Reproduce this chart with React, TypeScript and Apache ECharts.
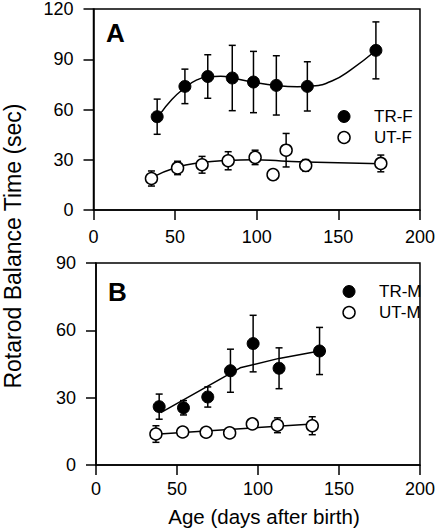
import React, { useEffect, useRef } from "react";
import * as echarts from "echarts";

// ---- Panel A (females) ----
const trfAge = [39, 56, 70, 85, 98, 112, 131, 173];
const trfMean = [55.7, 73.8, 79.7, 78.8, 76.4, 74.4, 73.8, 95.3];
const trfErr = [10.5, 10.3, 13, 19.5, 18.3, 17.7, 14.7, 17];

const utfAge = [35.5, 51.5, 66.5, 82.5, 99, 110, 118, 130, 176];
const utfMean = [18.8, 25.1, 27, 29.4, 31.4, 21.1, 35.7, 26.6, 27.8];
const utfErr = [4.5, 4, 5, 5.4, 4.3, 3, 10, 3.5, 5];

const trfFitX = [41, 48, 56, 63, 70, 78, 86, 98, 112, 125, 134, 146, 158, 172];
const trfFitY = [57.5, 66, 73, 77.5, 79.5, 79.8, 78.6, 76.3, 74.3, 73.6, 74, 77, 84, 94.5];
const utfFitX = [35, 51, 66, 82, 98, 115, 130, 176];
const utfFitY = [19, 25.5, 28.3, 29.6, 30, 29.3, 28.6, 27.6];

// ---- Panel B (males) ----
const trmAge = [39, 54, 69, 83, 97, 113, 138];
const trmMean = [26, 25.5, 30.3, 42, 54.1, 43.1, 50.8];
const trmErr = [5.6, 3.2, 4.5, 9.6, 12.6, 9.1, 10.5];

const utmAge = [37, 53.5, 68, 82.5, 96.5, 112, 133.5];
const utmMean = [13.8, 14.7, 14.6, 14.3, 18.3, 17.7, 17.5];
const utmErr = [3.7, 1, 1, 1, 1.5, 3.3, 4];

const trmFitX = [40, 89, 113, 138];
const trmFitY = [23.3, 43.3, 47.5, 50.8];
const utmFitX = [36.7, 133.6];
const utmFitY = [13.7, 18.3];

// ---- Axes / labels ----
const xTicks = { min: 0, max: 200, interval: 50 };
const yTicksA = { min: 0, max: 120, interval: 30 };
const yTicksB = { min: 0, max: 90, interval: 30 };
const panelLabels = ["A", "B"];
const legendA = ["TR-F", "UT-F"];
const legendB = ["TR-M", "UT-M"];
const xTitle = "Age (days after birth)";
const yTitle = "Rotarod Balance Time (sec)";

const FONT = "'Liberation Sans', Arial, sans-serif";
const BLACK = "#000";

const zip = (a: number[], b: number[]) => a.map((v, i) => [v, b[i]]);
const zip3 = (a: number[], b: number[], c: number[]) => a.map((v, i) => [v, b[i], c[i]]);

function errorBarSeries(name: string, idx: number, data: number[][]) {
  return {
    type: "custom",
    name: name + "-err",
    xAxisIndex: idx,
    yAxisIndex: idx,
    z: 3,
    silent: true,
    data,
    renderItem: (params: any, api: any) => {
      const x = api.value(0);
      const y = api.value(1);
      const e = api.value(2);
      const top = api.coord([x, y + e]);
      const bot = api.coord([x, y - e]);
      const h = 3.5;
      const st = { stroke: BLACK, lineWidth: 1.5 };
      return {
        type: "group",
        children: [
          { type: "line", shape: { x1: top[0], y1: top[1], x2: bot[0], y2: bot[1] }, style: st },
          { type: "line", shape: { x1: top[0] - h, y1: top[1], x2: top[0] + h, y2: top[1] }, style: st },
          { type: "line", shape: { x1: bot[0] - h, y1: bot[1], x2: bot[0] + h, y2: bot[1] }, style: st },
        ],
      };
    },
  };
}

function scatterSeries(name: string, idx: number, data: number[][], filled: boolean) {
  return {
    type: "scatter",
    name,
    xAxisIndex: idx,
    yAxisIndex: idx,
    z: 4,
    symbol: "circle",
    symbolSize: 12,
    itemStyle: filled
      ? { color: BLACK, borderColor: BLACK, borderWidth: 1, opacity: 1 }
      : { color: "#fff", borderColor: BLACK, borderWidth: 1.5, opacity: 1 },
    data,
  };
}

function fitSeries(name: string, idx: number, data: number[][], smooth: boolean) {
  return {
    type: "line",
    name: name + "-fit",
    xAxisIndex: idx,
    yAxisIndex: idx,
    z: 2,
    smooth: smooth ? 0.5 : false,
    showSymbol: false,
    symbol: "none",
    lineStyle: { color: BLACK, width: 1.5 },
    data,
  };
}

const axisCommon = {
  axisLine: { show: true, lineStyle: { color: BLACK, width: 1.5 } },
  axisTick: { show: true, inside: false, length: 10, lineStyle: { color: BLACK, width: 1.5 } },
  splitLine: { show: false },
};

function legendCfg(names: string[], left: number, top: number) {
  return {
    left,
    top,
    orient: "vertical",
    itemWidth: 12,
    itemHeight: 12,
    itemGap: 4,
    selectedMode: false,
    textStyle: { fontFamily: FONT, fontSize: 17, color: BLACK, padding: [0, 0, 0, 19], lineHeight: 17 },
    data: [
      { name: names[0], icon: "circle", itemStyle: { color: BLACK, borderColor: BLACK, borderWidth: 1, opacity: 1 } },
      { name: names[1], icon: "circle", itemStyle: { color: "#fff", borderColor: BLACK, borderWidth: 1.5, opacity: 1 } },
    ],
  };
}

export default function App() {
  const ref = useRef<HTMLDivElement>(null);
  useEffect(() => {
    if (!ref.current) return;
    const chart = echarts.init(ref.current, null, { renderer: "svg" });
    const option: any = {
      animation: false,
      backgroundColor: "#fff",
      grid: [
        { left: 93.5, top: 8, width: 328, height: 202, show: true, borderColor: BLACK, borderWidth: 1.5, backgroundColor: "transparent" },
        { left: 96, top: 263, width: 328, height: 202, show: true, borderColor: BLACK, borderWidth: 1.5, backgroundColor: "transparent" },
      ],
      xAxis: [0, 1].map((i) => ({
        type: "value",
        gridIndex: i,
        ...xTicks,
        ...axisCommon,
        axisLabel: { color: BLACK, fontFamily: FONT, fontSize: 18, margin: i === 0 ? 18 : 15 },
      })),
      yAxis: [0, 1].map((i) => ({
        type: "value",
        gridIndex: i,
        ...(i === 0 ? yTicksA : yTicksB),
        ...axisCommon,
        axisLabel: { color: BLACK, fontFamily: FONT, fontSize: 18, margin: 20 },
      })),
      legend: [legendCfg(legendA, 332.3, 103), legendCfg(legendB, 337.3, 278)],
      series: [
        fitSeries("TR-F", 0, zip(trfFitX, trfFitY), true),
        fitSeries("UT-F", 0, zip(utfFitX, utfFitY), true),
        errorBarSeries("TR-F", 0, zip3(trfAge, trfMean, trfErr)),
        errorBarSeries("UT-F", 0, zip3(utfAge, utfMean, utfErr)),
        scatterSeries("TR-F", 0, zip(trfAge, trfMean), true),
        scatterSeries("UT-F", 0, zip(utfAge, utfMean), false),
        fitSeries("TR-M", 1, zip(trmFitX, trmFitY), false),
        fitSeries("UT-M", 1, zip(utmFitX, utmFitY), false),
        errorBarSeries("TR-M", 1, zip3(trmAge, trmMean, trmErr)),
        errorBarSeries("UT-M", 1, zip3(utmAge, utmMean, utmErr)),
        scatterSeries("TR-M", 1, zip(trmAge, trmMean), true),
        scatterSeries("UT-M", 1, zip(utmAge, utmMean), false),
      ],
      graphic: [
        { type: "text", left: 106, top: 20, style: { text: panelLabels[0], fontFamily: FONT, fontSize: 26, fontWeight: "bold", fill: BLACK } },
        { type: "text", left: 108, top: 279, style: { text: panelLabels[1], fontFamily: FONT, fontSize: 26, fontWeight: "bold", fill: BLACK } },
        {
          type: "text",
          x: 13,
          y: 246,
          rotation: Math.PI / 2,
          style: { text: yTitle, fontFamily: FONT, fontSize: 23, fill: BLACK, align: "center", verticalAlign: "middle" },
        },
        {
          type: "text",
          x: 264,
          y: 516,
          style: { text: xTitle, fontFamily: FONT, fontSize: 20.5, fill: BLACK, align: "center", verticalAlign: "middle" },
        },
      ],
    };
    chart.setOption(option);
    return () => chart.dispose();
  }, []);
  return (
    <div
      ref={ref}
      style={{ position: "absolute", left: 0, top: 0, width: 438, height: 528 }}
    />
  );
}
